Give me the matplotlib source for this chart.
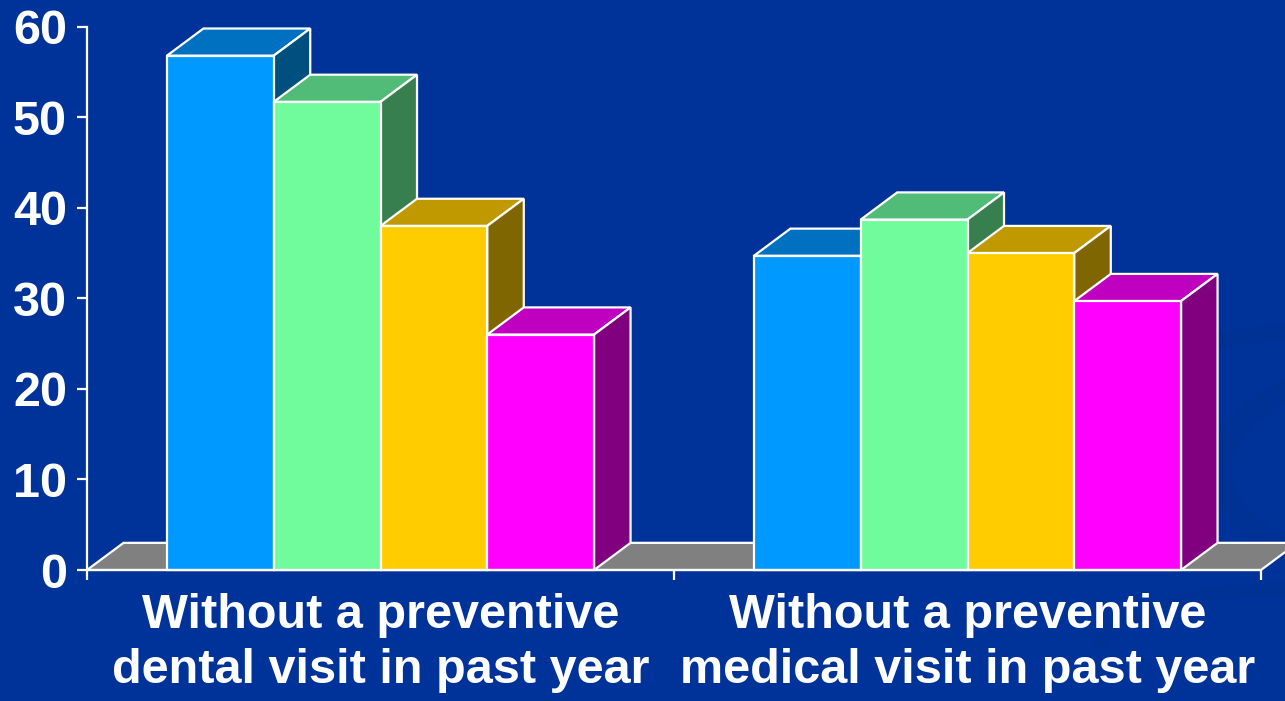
import matplotlib
matplotlib.use("Agg")
import matplotlib.pyplot as plt
from matplotlib.patches import Polygon, Arc

# ---- data -------------------------------------------------------------
categories = ["Without a preventive\ndental visit in past year",
              "Without a preventive\nmedical visit in past year"]
series_1 = [56.8, 34.7]
series_2 = [51.7, 38.7]
series_3 = [38.0, 35.0]
series_4 = [26.0, 29.7]
y_ticks = [0, 10, 20, 30, 40, 50, 60]

# ---- styling ----------------------------------------------------------
BG = "#003399"
front_colors = ["#0099FF", "#70FC9C", "#FFCC00", "#FF00FF"]
top_colors = ["#0070C0", "#50BC78", "#C09900", "#C000C0"]
side_colors = ["#00507F", "#387F50", "#806600", "#800080"]
FLOOR = "#808080"
EDGE = "white"
LW = 1.6
FONT = "Liberation Sans"

W, H = 1285, 701
fig = plt.figure(figsize=(W / 100, H / 100), dpi=100, facecolor=BG)

# faint swoosh in the background, lower right (kept behind the axes)
for (cx, cy, w, h, t1, t2, lw, col) in [
    (1.10, 0.33, 0.30, 0.30, 95, 265, 16, "#003194"),
    (1.05, 0.42, 0.40, 0.22, 60, 180, 12, "#003194"),
    (1.00, 0.05, 0.30, 0.22, 70, 170, 10, "#003295"),
]:
    fig.patches.append(Arc((cx, cy), w, h, theta1=t1, theta2=t2, lw=lw,
                           color=col, transform=fig.transFigure, zorder=-5))

ax = fig.add_axes([87 / W, (H - 570) / H, 1174 / W, 543.3 / H])
ax.set_zorder(1)
ax.set_facecolor("none")
ax.set_xlim(-0.5, 1.5)
ax.set_ylim(0, 60)

series = [series_1, series_2, series_3, series_4]
n = len(series)
bar_w = 0.1819
dx, dy = 0.0622, 3.0  # depth offset of the 3-D boxes (data units)

# floor plane
floor = Polygon([(-0.5, 0), (1.5, 0), (1.5 + dx, dy), (-0.5 + dx, dy)],
                closed=True, facecolor=FLOOR, edgecolor=EDGE, lw=LW,
                zorder=2, clip_on=False)
ax.add_patch(floor)

z = 3.0
for j in range(len(categories)):
    for i in range(n):
        h = series[i][j]
        x0 = j + (i - n / 2) * bar_w
        x1 = x0 + bar_w
        top = Polygon([(x0, h), (x1, h), (x1 + dx, h + dy), (x0 + dx, h + dy)],
                      closed=True, facecolor=top_colors[i], edgecolor=EDGE,
                      lw=LW, zorder=z, clip_on=False, joinstyle="miter")
        side = Polygon([(x1, 0), (x1, h), (x1 + dx, h + dy), (x1 + dx, dy)],
                       closed=True, facecolor=side_colors[i], edgecolor=EDGE,
                       lw=LW, zorder=z, clip_on=False, joinstyle="miter")
        ax.add_patch(top)
        ax.add_patch(side)
        ax.bar(x0, h, width=bar_w, align="edge", color=front_colors[i],
               edgecolor=EDGE, linewidth=LW, zorder=z + 0.001, clip_on=False)
        z += 0.01

# axes
for s in ("top", "right"):
    ax.spines[s].set_visible(False)
for s in ("left", "bottom"):
    ax.spines[s].set_color(EDGE)
    ax.spines[s].set_linewidth(LW)
    ax.spines[s].set_zorder(10)

ax.set_yticks(y_ticks)
ax.set_yticklabels([str(v) for v in y_ticks])
ax.tick_params(axis="y", colors=EDGE, length=7.2, width=LW, pad=7.2,
               labelsize=35)
for lab in ax.get_yticklabels():
    lab.set_fontfamily(FONT)
    lab.set_fontweight("bold")
    lab.set_color("white")

ax.set_xticks([0, 1])
ax.set_xticklabels(categories, linespacing=1.28)
ax.set_xticks([-0.5, 0.5, 1.5], minor=True)
ax.tick_params(axis="x", which="major", length=0, pad=16.5, labelsize=35)
ax.tick_params(axis="x", which="minor", colors=EDGE, length=7.2, width=LW)
for lab in ax.get_xticklabels():
    lab.set_fontfamily(FONT)
    lab.set_fontweight("bold")
    lab.set_color("white")

fig.savefig("out.png", dpi=100, facecolor=BG)
